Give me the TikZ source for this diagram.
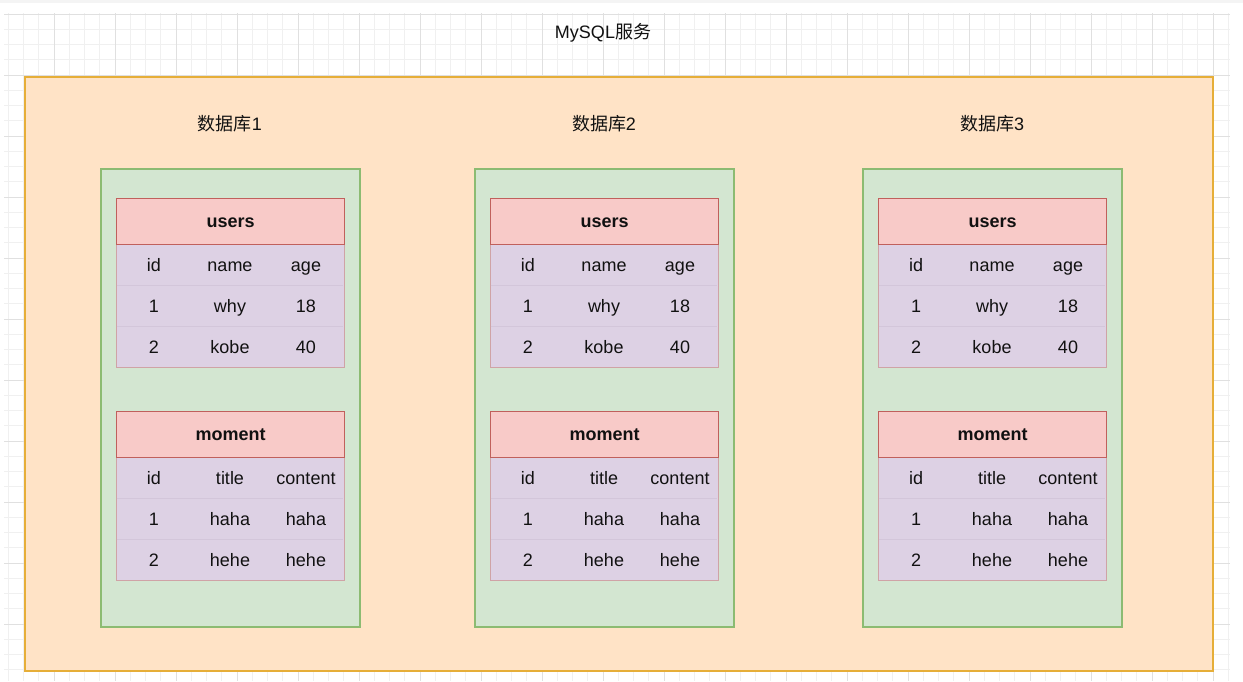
\documentclass[tikz,border=0pt]{standalone}
\usepackage{fontspec}
\setmainfont{Liberation Sans}
\newfontfamily\cjk{Noto Sans CJK SC}
\definecolor{ofill}{HTML}{FFE3C6}
\definecolor{ostroke}{HTML}{E6AE38}
\definecolor{gfill}{HTML}{D3E6D1}
\definecolor{gstroke}{HTML}{8CBB72}
\definecolor{rfill}{HTML}{F8CAC8}
\definecolor{rstroke}{HTML}{C0605C}
\definecolor{pfill}{HTML}{DDD1E4}
\definecolor{pstroke}{HTML}{CFA3A6}
\definecolor{sepc}{HTML}{D3C6DA}
\definecolor{gminor}{HTML}{F0F0F0}
\definecolor{gmajor}{HTML}{E0E0E0}
\definecolor{band}{HTML}{F4F4F4}
\definecolor{txt}{HTML}{111111}
\begin{document}
\begin{tikzpicture}[x=1pt,y=-1pt,
  every node/.style={text=txt, font=\fontsize{18}{21}\selectfont},
  outerbox/.style={draw=ostroke, fill=ofill, line width=2pt},
  dbbox/.style={draw=gstroke, fill=gfill, line width=1.6pt},
  hdr/.style={draw=rstroke, fill=rfill, line width=1.4pt, minimum width=228pt, minimum height=46pt, inner sep=0pt, anchor=north west, text height=12pt, text depth=0pt, font=\bfseries\fontsize{18}{21}\selectfont},
  rowsbox/.style={draw=pstroke, fill=pfill, line width=1.2pt, minimum width=228pt, minimum height=123pt, inner sep=0pt, anchor=north west},
  cell/.style={minimum width=76pt, minimum height=41pt, inner sep=0pt, text height=14pt, text depth=0pt},
  sepline/.style={draw=sepc, line width=0.8pt},
  title/.style={font=\fontsize{18}{21}\selectfont},
  gridminor/.style={draw=gminor, line width=0.7pt},
  gridmajor/.style={draw=gmajor, line width=1pt}]
\useasboundingbox (0,0) rectangle (1243,681);
% background
\fill[white] (0,0) rectangle (1243,681);
\fill[band] (0,0) rectangle (1243,3);
\foreach \k in {0,...,80} {\draw[gridminor] ({8.25+15.25*\k},13) -- ({8.25+15.25*\k},681);}
\foreach \k in {0,...,43} {\draw[gridminor] (4,{14+15.25*\k}) -- (1230,{14+15.25*\k});}
\foreach \m in {0,...,19} {\draw[gridmajor] ({54+61*\m},13) -- ({54+61*\m},681);}
\foreach \m in {0,...,10} {\draw[gridmajor] (4,{14+61*\m}) -- (1230,{14+61*\m});}
% title
\node[title] (svc) at (603,32.5) {MySQL{\cjk 服务}};
% outer box
\node[outerbox, minimum width=1188pt, minimum height=594pt, inner sep=0pt, anchor=north west] (outer) at (24,76) {};
% databases
\foreach \i/\x in {1/100, 2/474, 3/862} {
  \node[title] (dbl\i) at (\x+130,124) {{\cjk 数据库}\i};
  \node[dbbox, minimum width=259pt, minimum height=458pt, inner sep=0pt, anchor=north west] (db\i) at (\x,168) {};
  % users table
  \node[rowsbox] (ur\i) at (\x+16,244) {};
  \node[hdr] (uh\i) at (\x+16,198) {users};
  \node[cell] (u\i a1) at (\x+54,264.5) {id};
  \node[cell] (u\i a2) at (\x+130,264.5) {name};
  \node[cell] (u\i a3) at (\x+206,264.5) {age};
  \node[cell] (u\i b1) at (\x+54,305.5) {1};
  \node[cell] (u\i b2) at (\x+130,305.5) {why};
  \node[cell] (u\i b3) at (\x+206,305.5) {18};
  \node[cell] (u\i c1) at (\x+54,346.5) {2};
  \node[cell] (u\i c2) at (\x+130,346.5) {kobe};
  \node[cell] (u\i c3) at (\x+206,346.5) {40};
  \draw[sepline] ([xshift=0.8pt]u\i a1.south west) -- ([xshift=-0.8pt]u\i a3.south east);
  \draw[sepline] ([xshift=0.8pt]u\i b1.south west) -- ([xshift=-0.8pt]u\i b3.south east);
  % moment table
  \node[rowsbox] (mr\i) at (\x+16,457) {};
  \node[hdr] (mh\i) at (\x+16,411) {moment};
  \node[cell] (m\i a1) at (\x+54,477.5) {id};
  \node[cell] (m\i a2) at (\x+130,477.5) {title};
  \node[cell] (m\i a3) at (\x+206,477.5) {content};
  \node[cell] (m\i b1) at (\x+54,518.5) {1};
  \node[cell] (m\i b2) at (\x+130,518.5) {haha};
  \node[cell] (m\i b3) at (\x+206,518.5) {haha};
  \node[cell] (m\i c1) at (\x+54,559.5) {2};
  \node[cell] (m\i c2) at (\x+130,559.5) {hehe};
  \node[cell] (m\i c3) at (\x+206,559.5) {hehe};
  \draw[sepline] ([xshift=0.8pt]m\i a1.south west) -- ([xshift=-0.8pt]m\i a3.south east);
  \draw[sepline] ([xshift=0.8pt]m\i b1.south west) -- ([xshift=-0.8pt]m\i b3.south east);
}
\end{tikzpicture}
\end{document}
